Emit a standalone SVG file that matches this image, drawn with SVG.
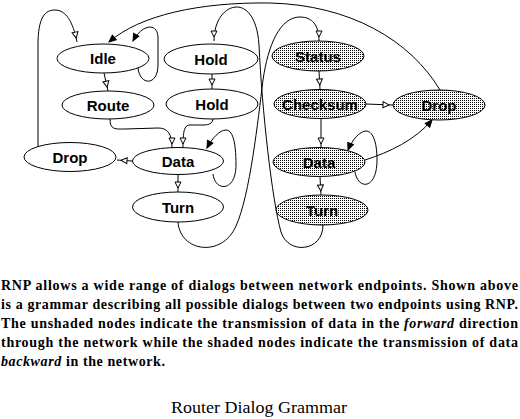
<svg xmlns="http://www.w3.org/2000/svg" width="520" height="419" viewBox="0 0 520 419">
<style>
.n{fill:#fff;stroke:#000;stroke-width:1}
.s{fill:url(#dots);stroke:#000;stroke-width:1}
.t{font-family:"Liberation Sans",Arial,sans-serif;font-weight:bold;font-size:15px;text-anchor:middle;fill:#000}
.c{fill:none;stroke:#000;stroke-width:1}
.a{marker-end:url(#arr)}
.f{marker-end:url(#arrf)}
.p{font-family:"Liberation Serif","Times New Roman",serif;font-weight:bold;font-size:14px;fill:#000}
</style>
<defs>
<pattern id="dots" width="2" height="2" patternUnits="userSpaceOnUse"><rect width="2" height="2" fill="#fff"/><rect width="1" height="1" fill="#000"/></pattern>
<marker id="arr" markerUnits="userSpaceOnUse" viewBox="-1 -4 12 8" markerWidth="12" markerHeight="8" refX="10" refY="0" orient="auto"><path d="M0,-3 L6,0 L0,3 Z" fill="#fff" stroke="#000" stroke-width="1"/></marker>
<marker id="arrf" markerUnits="userSpaceOnUse" viewBox="-1 -4 12 8" markerWidth="12" markerHeight="8" refX="7" refY="0" orient="auto"><path d="M0,-3 L7,0 L0,3 Z" fill="#000" stroke="#000" stroke-width="1"/></marker>
</defs>
<g id="connectors">
<path class="c a" d="M104,73 L108,91"/>
<path class="c a" d="M212,74 L212,89"/>
<path class="c a" d="M110,119 C110,130 115,129 125,129 L158,128 C168,128 172,134 172,148"/>
<path class="c a" d="M213,119 C212,126 205,125 195,125 L190,125 C184,125 183,132 183,148"/>
<path class="c a" d="M178,175 L178,192"/>
<path class="c a" d="M132,161 L117,160"/>
<path class="c f" d="M138,68 C140,86 158,86 158,65 L158,38 C158,22 142,24 133,41"/>
<path class="c a" d="M38,147 L38,45 C38,17 45,10 55,10 C66,10 73,22 77,42"/>
<path class="c f" d="M440,90 C410,40 350,5 270,3 C200,2 140,15 109,42"/>
<path class="c f" d="M213,174 C215,192 236,192 236,165 C236,140 232,130 226,130 C220,130 212,138 207,148"/>
<path class="c a" d="M323,225 C323,252 288,255 281,232 C272,200 262,110 259,45 C257,15 245,7 237,7 C225,7 214,20 214,41"/>
<path class="c a" d="M178,222 C180,252 222,258 236,226 C250,195 258,120 263,80 C268,45 280,17 300,17 C312,17 319,25 319,41"/>
<path class="c a" d="M319,71 L320,89"/>
<path class="c a" d="M366,104 L393,105"/>
<path class="c a" d="M321,118 L321,148"/>
<path class="c a" d="M320,177 L321,195"/>
<path class="c f" d="M355,172 C358,190 377,190 377,160 C377,140 372,131 366,131 C360,131 352,140 348,150"/>
<path class="c f" d="M365,160 C390,152 415,140 432,120"/>
</g>
<g id="idle"><ellipse class="n" cx="103" cy="58.5" rx="46" ry="14.5"/><text class="t" x="103" y="64">Idle</text></g>
<g id="hold1"><ellipse class="n" cx="211" cy="59" rx="47" ry="15"/><text class="t" x="211" y="64.5">Hold</text></g>
<g id="route"><ellipse class="n" cx="108" cy="105" rx="46" ry="14"/><text class="t" x="108" y="110.5">Route</text></g>
<g id="hold2"><ellipse class="n" cx="212" cy="104" rx="46" ry="15"/><text class="t" x="212" y="109.5">Hold</text></g>
<g id="drop-left"><ellipse class="n" cx="70" cy="157" rx="46" ry="14.5"/><text class="t" x="70" y="162.5">Drop</text></g>
<g id="data-left"><ellipse class="n" cx="178" cy="161" rx="45.5" ry="13.5"/><text class="t" x="178" y="166.5">Data</text></g>
<g id="turn-left"><ellipse class="n" cx="178" cy="207" rx="45.5" ry="15"/><text class="t" x="178" y="212.5">Turn</text></g>
<g id="status"><ellipse class="s" cx="318" cy="56" rx="46" ry="15"/><text class="t" x="318" y="61.5">Status</text></g>
<g id="checksum"><ellipse class="s" cx="320" cy="104" rx="46" ry="14.5"/><text class="t" x="320" y="109.5">Checksum</text></g>
<g id="drop-right"><ellipse class="s" cx="439" cy="105" rx="46" ry="15"/><text class="t" x="439" y="110.5">Drop</text></g>
<g id="data-right"><ellipse class="s" cx="319" cy="162" rx="46" ry="14.5"/><text class="t" x="319" y="167.5">Data</text></g>
<g id="turn-right"><ellipse class="s" cx="322" cy="210" rx="46" ry="15"/><text class="t" x="322" y="215.5">Turn</text></g>
<g id="caption">
<text class="p" x="1" y="290" textLength="517" lengthAdjust="spacing">RNP allows a wide range of dialogs between network endpoints. Shown above</text>
<text class="p" x="1" y="309" textLength="517" lengthAdjust="spacing">is a grammar describing all possible dialogs between two endpoints using RNP.</text>
<text class="p" x="1" y="328" textLength="517" lengthAdjust="spacing">The unshaded nodes indicate the transmission of data in the <tspan font-style="italic">forward</tspan> direction</text>
<text class="p" x="1" y="347" textLength="517" lengthAdjust="spacing">through the network while the shaded nodes indicate the transmission of data</text>
<text class="p" x="1" y="366" textLength="164" lengthAdjust="spacing"><tspan font-style="italic">backward</tspan> in the network.</text>
<text x="171" y="413" font-family="'Liberation Serif','Times New Roman',serif" font-size="17" textLength="176" lengthAdjust="spacingAndGlyphs" fill="#000">Router Dialog Grammar</text>
</g>
</svg>
